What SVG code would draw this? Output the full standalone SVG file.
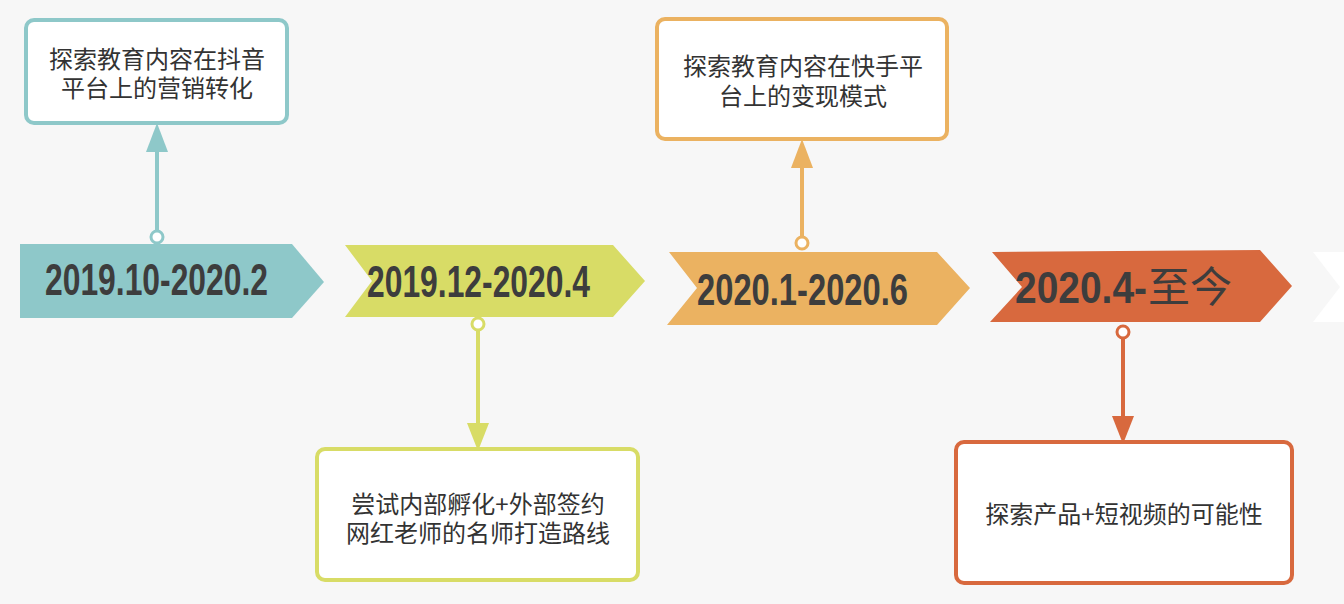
<svg xmlns="http://www.w3.org/2000/svg" width="1344" height="604" viewBox="0 0 1344 604">
<style>
.bg{fill:#f7f7f7}
.box{fill:#ffffff;stroke-width:4}
.bt{font-family:"Noto Sans CJK SC","Noto Sans",sans-serif;font-size:24px;fill:#333333;text-anchor:middle}
.at{font-family:"Liberation Sans","DejaVu Sans",sans-serif;font-weight:bold;font-size:44px;fill:#3d3d3d}
.cj{font-family:"Noto Sans CJK SC",sans-serif;font-weight:normal;font-size:42px;fill:#3d3d3d}
.ln{stroke-width:4;fill:none}
.dot{fill:#ffffff;stroke-width:3}
.teal{stroke:#8ec8c9}
.yel{stroke:#d8dc66}
.org{stroke:#ebb261}
.red{stroke:#d8693e}
</style>
<rect class="bg" x="0" y="0" width="1344" height="604"/>
<g id="connectors">
  <line class="ln teal" x1="157" y1="231" x2="157" y2="148"/>
  <polygon points="146,152 168,152 157,123" fill="#8ec8c9"/>
  <line class="ln yel" x1="478" y1="330" x2="478" y2="426"/>
  <polygon points="467,423 489,423 478,451" fill="#d8dc66"/>
  <line class="ln org" x1="802" y1="237" x2="802" y2="165"/>
  <polygon points="791,168 813,168 802,139" fill="#ebb261"/>
  <line class="ln red" x1="1123" y1="338" x2="1123" y2="419"/>
  <polygon points="1112,416 1134,416 1123,444" fill="#d8693e"/>
</g>
<g id="stage1">
  <polygon points="20,244 292,244 324,282 292,318 20,318" fill="#8ec8c9"/>
  <text class="at" x="45" y="295" textLength="223" lengthAdjust="spacingAndGlyphs">2019.10-2020.2</text>
  <circle class="dot teal" cx="157" cy="237" r="6"/>
</g>
<g id="stage2">
  <polygon points="345,245 613,245 645,281 613,317 345,317 372,281" fill="#d8dc66"/>
  <text class="at" x="367" y="297" textLength="223" lengthAdjust="spacingAndGlyphs">2019.12-2020.4</text>
  <circle class="dot yel" cx="478" cy="324" r="6"/>
</g>
<g id="stage3">
  <polygon points="669,252 937,252 970,288 937,325 667,325 697,288" fill="#ebb261"/>
  <text class="at" x="697" y="305" textLength="211" lengthAdjust="spacingAndGlyphs">2020.1-2020.6</text>
  <circle class="dot org" cx="802" cy="243" r="6"/>
</g>
<g id="stage4">
  <polygon points="992,252 1260,250 1292,286 1260,322 990,322 1022,287" fill="#d8693e"/>
  <text class="at" x="1015" y="303"><tspan textLength="132" lengthAdjust="spacingAndGlyphs">2020.4-</tspan><tspan class="cj" x="1148" y="302">至今</tspan></text>
  <circle class="dot red" cx="1123" cy="332" r="6"/>
</g>
<g id="stage5">
  <polygon points="1313,252 1344,252 1344,322 1313,322 1340,287" fill="#ffffff"/>
</g>
<g id="box1">
  <rect class="box teal" x="26" y="20" width="261" height="103" rx="8"/>
  <text class="bt"><tspan x="157" y="68">探索教育内容在抖音</tspan><tspan x="157" y="97">平台上的营销转化</tspan></text>
</g>
<g id="box2">
  <rect class="box yel" x="317" y="449" width="321" height="131" rx="8"/>
  <text class="bt"><tspan x="478" y="513">尝试内部孵化+外部签约</tspan><tspan x="478" y="542">网红老师的名师打造路线</tspan></text>
</g>
<g id="box3">
  <rect class="box org" x="657" y="19" width="290" height="120" rx="8"/>
  <text class="bt"><tspan x="803" y="75">探索教育内容在快手平</tspan><tspan x="803" y="105">台上的变现模式</tspan></text>
</g>
<g id="box4">
  <rect class="box red" x="956" y="442" width="336" height="141" rx="8"/>
  <text class="bt" x="1124" y="523">探索产品+短视频的可能性</text>
</g>
</svg>
